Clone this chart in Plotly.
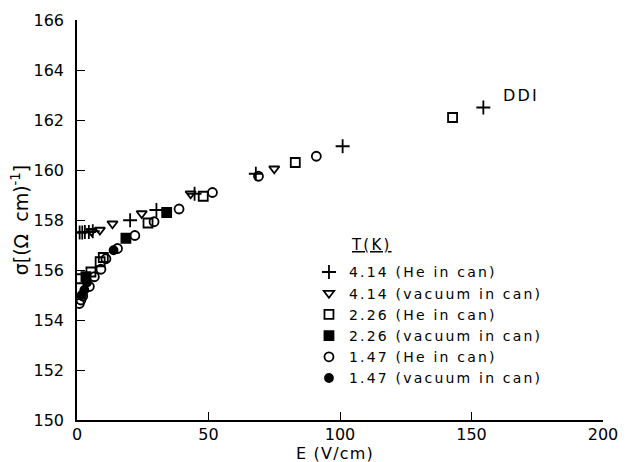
import plotly.graph_objects as go

# 4.14 K, He in can (+)
e_414_he = [1.0, 2.0, 3.0, 4.5, 6.0, 20.2, 30.2, 44.7, 68.0, 101.0, 154.5]
s_414_he = [157.5, 157.5, 157.52, 157.52, 157.55, 157.99, 158.4, 159.05, 159.85, 160.95, 162.5]
# 4.14 K, vacuum in can (triangle down)
e_414_vac = [5.5, 8.7, 13.5, 24.6, 43.2, 75.0]
s_414_vac = [157.55, 157.6, 157.85, 158.26, 159.05, 160.05]
# 2.26 K, He in can (open square)
e_226_he = [0.9, 5.3, 8.8, 10.0, 27.0, 48.0, 83.0, 142.8]
s_226_he = [155.65, 155.92, 156.33, 156.5, 157.88, 158.95, 160.3, 162.1]
# 2.26 K, vacuum in can (filled square)
e_226_vac = [3.4, 18.6, 34.1]
s_226_vac = [155.73, 157.27, 158.3]
# 1.47 K, He in can (open circle)
e_147_he = [0.9, 1.5, 2.2, 4.7, 6.6, 9.1, 11.0, 15.4, 22.0, 29.3, 38.8, 51.5, 69.0, 91.0]
s_147_he = [154.66, 154.8, 154.96, 155.34, 155.73, 156.03, 156.45, 156.86, 157.38, 157.93, 158.44, 159.1, 159.75, 160.55]
# 1.47 K, vacuum in can (filled circle)
e_147_vac = [1.8, 2.8, 3.8, 13.9]
s_147_vac = [155.0, 155.2, 155.5, 156.79]

labels = ["4.14 (He in can)", "4.14 (vacuum in can)", "2.26 (He in can)",
          "2.26 (vacuum in can)", "1.47 (He in can)", "1.47 (vacuum in can)"]
x_ticks = [0, 50, 100, 150, 200]
y_ticks = [150, 152, 154, 156, 158, 160, 162, 164, 166]

series = [
    (e_414_he, s_414_he, "cross-thin-open", 10),
    (e_414_vac, s_414_vac, "triangle-down-open", 9),
    (e_226_he, s_226_he, "square-open", 9),
    (e_226_vac, s_226_vac, "square", 9),
    (e_147_he, s_147_he, "circle-open", 9),
    (e_147_vac, s_147_vac, "circle", 8),
]

FONT = "DejaVu Sans"
SPACED = '<span style="letter-spacing:2.2px">{}</span>'
fig = go.Figure()
for (xs, ys, sym, sz), lab in zip(series, labels):
    fig.add_trace(go.Scatter(
        x=xs, y=ys, mode="markers", name=SPACED.format(lab),
        marker=dict(symbol=sym, size=sz, color="black",
                    line=dict(color="black", width=1.8)),
    ))

LEG_X, LEG_Y = 0.441, 0.409
fig.update_layout(
    width=629, height=462,
    margin=dict(l=77, r=26, t=20, b=42),
    paper_bgcolor="white", plot_bgcolor="white",
    font=dict(family=FONT, color="black", size=15),
    showlegend=True,
    legend=dict(x=LEG_X, y=LEG_Y, xanchor="left", yanchor="top",
                bgcolor="rgba(0,0,0,0)", font=dict(size=14, family=FONT),
                itemwidth=30, tracegroupgap=0),
    xaxis=dict(range=[0, 200], tickvals=x_ticks, ticks="inside", ticklen=8,
               tickcolor="black", showline=True, linecolor="black", linewidth=1.5,
               showgrid=False, zeroline=False, ticklabelstandoff=-1,
               tickfont=dict(size=16, family=FONT), automargin=False),
    yaxis=dict(range=[150, 166], tickvals=y_ticks, ticks="inside", ticklen=8,
               tickcolor="black", showline=True, linecolor="black", linewidth=1.5,
               showgrid=False, zeroline=False, ticklabelstandoff=8,
               tickfont=dict(size=16, family=FONT), automargin=False,
               title=dict(text="σ[(Ω  cm)<sup>-1</sup>]", font=dict(size=19, family=FONT), standoff=0)),
    annotations=[
        dict(x=0.49, y=0, xref="paper", yref="paper",
             text='<span style="letter-spacing:1.2px">E (V/cm)</span>',
             showarrow=False, xanchor="center", yanchor="middle", yshift=-33,
             font=dict(size=16, family=FONT)),
        dict(x=169, y=163.0, xref="x", yref="y", text=SPACED.format("DDI"), showarrow=False,
             font=dict(size=16, family=FONT)),
        dict(x=LEG_X, y=LEG_Y, xref="paper", yref="paper", text=SPACED.format("<u>T(K)</u>"),
             showarrow=False, xanchor="left", yanchor="bottom", xshift=40,
             font=dict(size=15, family=FONT)),
    ],
)

fig.write_html("out.html", config={"displayModeBar": False},
               post_script="document.body.style.margin='0px';")
